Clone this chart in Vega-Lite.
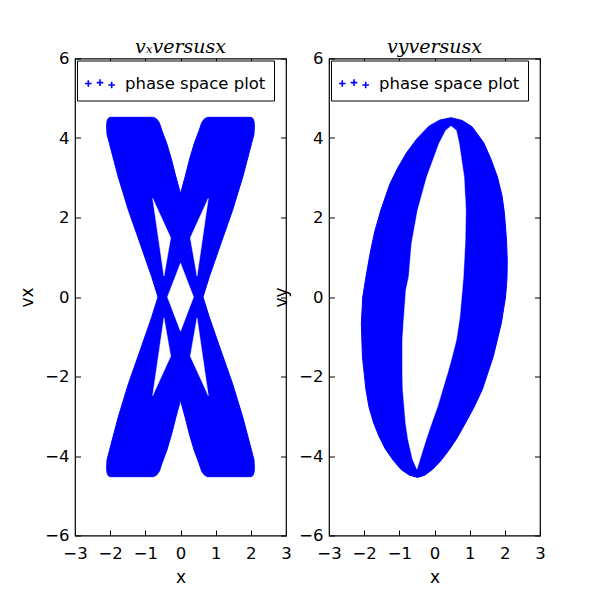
{
  "$schema": "https://vega.github.io/schema/vega-lite/v6.json",
  "background": "white",
  "padding": {"left": 17, "top": 36.5, "right": 5, "bottom": 5},
  "bounds": "flush",
  "spacing": 43,
  "config": {
    "view": {"stroke": "black", "strokeWidth": 1.2},
    "axis": {
      "domain": false,
      "grid": false,
      "tickSize": -5.5,
      "tickColor": "black",
      "tickWidth": 1,
      "labelFont": "DejaVu Sans",
      "labelFontSize": 16.5,
      "labelColor": "black",
      "labelFlush": false,
      "labelOverlap": false,
      "titleFont": "DejaVu Sans",
      "titleFontSize": 17,
      "titleFontWeight": "normal",
      "titleColor": "black"
    },
    "axisX": {"labelPadding": 15, "titlePadding": 8},
    "axisY": {"labelPadding": 11.5, "titlePadding": 8.5},
    "title": {"font": "DejaVu Serif", "fontStyle": "italic", "fontSize": 19, "fontWeight": "normal", "color": "black", "anchor": "middle", "offset": -6},
    "legend": {
      "title": null,
      "orient": "none",
      "legendX": 2,
      "legendY": 2,
      "strokeColor": "black",
      "strokeWidth": 1,
      "fillColor": "white",
      "padding": 8,
      "cornerRadius": 0,
      "labelFont": "DejaVu Sans",
      "labelFontSize": 16.5,
      "labelColor": "black",
      "labelOffset": 10,
      "symbolType": "M-1.07,0H-0.6M-0.836,-0.235V0.235M-0.235,-0.06H0.235M0,-0.295V0.175M0.6,0.11H1.07M0.836,-0.125V0.345",
      "symbolSize": 784,
      "symbolStrokeWidth": 1.6,
      "symbolFillColor": "transparent"
    }
  },
  "resolve": {"scale": {"color": "independent"}, "legend": {"color": "independent"}},
  "datasets": {
    "vx_band": [
      {"i": 1, "x": -2.0, "v": 4.52}, {"i": 2, "x": -0.77, "v": 4.52}, {"i": 3, "x": -0.68, "v": 4.48},
      {"i": 4, "x": -0.6, "v": 4.38}, {"i": 5, "x": -0.53, "v": 4.19}, {"i": 6, "x": -0.39, "v": 3.86},
      {"i": 7, "x": -0.25, "v": 3.44}, {"i": 8, "x": -0.13, "v": 3.02}, {"i": 9, "x": 0.0, "v": 2.6},
      {"i": 10, "x": 0.13, "v": 3.02}, {"i": 11, "x": 0.25, "v": 3.44}, {"i": 12, "x": 0.39, "v": 3.86},
      {"i": 13, "x": 0.53, "v": 4.19}, {"i": 14, "x": 0.6, "v": 4.38}, {"i": 15, "x": 0.68, "v": 4.48},
      {"i": 16, "x": 0.77, "v": 4.52}, {"i": 17, "x": 2.0, "v": 4.52}, {"i": 18, "x": 2.06, "v": 4.49},
      {"i": 19, "x": 2.09, "v": 4.42}, {"i": 20, "x": 2.1, "v": 4.3}, {"i": 21, "x": 2.09, "v": 4.1},
      {"i": 22, "x": 2.02, "v": 3.86}, {"i": 23, "x": 1.77, "v": 3.02}, {"i": 24, "x": 1.48, "v": 2.18},
      {"i": 25, "x": 1.15, "v": 1.35}, {"i": 26, "x": 0.82, "v": 0.51}, {"i": 27, "x": 0.64, "v": 0.0},
      {"i": 28, "x": 0.82, "v": -0.51}, {"i": 29, "x": 1.15, "v": -1.35}, {"i": 30, "x": 1.48, "v": -2.18},
      {"i": 31, "x": 1.77, "v": -3.02}, {"i": 32, "x": 2.02, "v": -3.86}, {"i": 33, "x": 2.09, "v": -4.1},
      {"i": 34, "x": 2.1, "v": -4.3}, {"i": 35, "x": 2.09, "v": -4.42}, {"i": 36, "x": 2.06, "v": -4.49},
      {"i": 37, "x": 2.0, "v": -4.52}, {"i": 38, "x": 0.77, "v": -4.52}, {"i": 39, "x": 0.68, "v": -4.48},
      {"i": 40, "x": 0.6, "v": -4.38}, {"i": 41, "x": 0.53, "v": -4.19}, {"i": 42, "x": 0.39, "v": -3.86},
      {"i": 43, "x": 0.25, "v": -3.44}, {"i": 44, "x": 0.13, "v": -3.02}, {"i": 45, "x": 0.0, "v": -2.6},
      {"i": 46, "x": -0.13, "v": -3.02}, {"i": 47, "x": -0.25, "v": -3.44}, {"i": 48, "x": -0.39, "v": -3.86},
      {"i": 49, "x": -0.53, "v": -4.19}, {"i": 50, "x": -0.6, "v": -4.38}, {"i": 51, "x": -0.68, "v": -4.48},
      {"i": 52, "x": -0.77, "v": -4.52}, {"i": 53, "x": -2.0, "v": -4.52}, {"i": 54, "x": -2.06, "v": -4.49},
      {"i": 55, "x": -2.09, "v": -4.42}, {"i": 56, "x": -2.1, "v": -4.3}, {"i": 57, "x": -2.09, "v": -4.1},
      {"i": 58, "x": -2.02, "v": -3.86}, {"i": 59, "x": -1.77, "v": -3.02}, {"i": 60, "x": -1.48, "v": -2.18},
      {"i": 61, "x": -1.15, "v": -1.35}, {"i": 62, "x": -0.82, "v": -0.51}, {"i": 63, "x": -0.64, "v": 0.0},
      {"i": 64, "x": -0.82, "v": 0.51}, {"i": 65, "x": -1.15, "v": 1.35}, {"i": 66, "x": -1.48, "v": 2.18},
      {"i": 67, "x": -1.77, "v": 3.02}, {"i": 68, "x": -2.02, "v": 3.86}, {"i": 69, "x": -2.09, "v": 4.1},
      {"i": 70, "x": -2.1, "v": 4.3}, {"i": 71, "x": -2.09, "v": 4.42}, {"i": 72, "x": -2.06, "v": 4.49}
    ],
    "vx_gaps": [
      {"poly": "ul", "i": 1, "x": -0.79, "v": 2.48}, {"poly": "ul", "i": 2, "x": -0.28, "v": 1.49}, {"poly": "ul", "i": 3, "x": -0.47, "v": 0.53},
      {"poly": "ur", "i": 1, "x": 0.79, "v": 2.48}, {"poly": "ur", "i": 2, "x": 0.47, "v": 0.53}, {"poly": "ur", "i": 3, "x": 0.28, "v": 1.49},
      {"poly": "ll", "i": 1, "x": -0.79, "v": -2.48}, {"poly": "ll", "i": 2, "x": -0.47, "v": -0.53}, {"poly": "ll", "i": 3, "x": -0.28, "v": -1.49},
      {"poly": "lr", "i": 1, "x": 0.79, "v": -2.48}, {"poly": "lr", "i": 2, "x": 0.28, "v": -1.49}, {"poly": "lr", "i": 3, "x": 0.47, "v": -0.53},
      {"poly": "mid", "i": 1, "x": 0.0, "v": 0.85}, {"poly": "mid", "i": 2, "x": 0.37, "v": 0.0}, {"poly": "mid", "i": 3, "x": 0.0, "v": -0.86}, {"poly": "mid", "i": 4, "x": -0.37, "v": 0.0}
    ],
    "vy_outer": [
      {"i": 1, "x": 0.47, "v": 4.51}, {"i": 2, "x": 0.79, "v": 4.44}, {"i": 3, "x": 1.07, "v": 4.28},
      {"i": 4, "x": 1.4, "v": 3.88}, {"i": 5, "x": 1.6, "v": 3.48}, {"i": 6, "x": 1.79, "v": 3.02},
      {"i": 7, "x": 1.92, "v": 2.55}, {"i": 8, "x": 1.99, "v": 2.1}, {"i": 9, "x": 2.05, "v": 1.4},
      {"i": 10, "x": 2.07, "v": 0.9}, {"i": 11, "x": 2.06, "v": 0.45}, {"i": 12, "x": 2.02, "v": 0.0},
      {"i": 13, "x": 1.9, "v": -0.66}, {"i": 14, "x": 1.67, "v": -1.5}, {"i": 15, "x": 1.36, "v": -2.33},
      {"i": 16, "x": 1.12, "v": -2.78}, {"i": 17, "x": 0.88, "v": -3.17}, {"i": 18, "x": 0.64, "v": -3.55},
      {"i": 19, "x": 0.42, "v": -3.84}, {"i": 20, "x": 0.18, "v": -4.12}, {"i": 21, "x": -0.06, "v": -4.34},
      {"i": 22, "x": -0.27, "v": -4.48}, {"i": 23, "x": -0.48, "v": -4.54}, {"i": 24, "x": -0.72, "v": -4.48},
      {"i": 25, "x": -0.95, "v": -4.34}, {"i": 26, "x": -1.18, "v": -4.1}, {"i": 27, "x": -1.4, "v": -3.82},
      {"i": 28, "x": -1.58, "v": -3.5}, {"i": 29, "x": -1.73, "v": -3.17}, {"i": 30, "x": -1.86, "v": -2.78},
      {"i": 31, "x": -1.95, "v": -2.33}, {"i": 32, "x": -2.05, "v": -1.5}, {"i": 33, "x": -2.08, "v": -0.66},
      {"i": 34, "x": -2.04, "v": 0.0}, {"i": 35, "x": -1.95, "v": 0.5}, {"i": 36, "x": -1.83, "v": 1.1},
      {"i": 37, "x": -1.7, "v": 1.65}, {"i": 38, "x": -1.52, "v": 2.2}, {"i": 39, "x": -1.27, "v": 2.84},
      {"i": 40, "x": -1.05, "v": 3.24}, {"i": 41, "x": -0.8, "v": 3.62}, {"i": 42, "x": -0.5, "v": 3.98},
      {"i": 43, "x": -0.15, "v": 4.3}, {"i": 44, "x": 0.15, "v": 4.45}
    ],
    "vy_inner": [
      {"i": 1, "x": 0.47, "v": 4.3}, {"i": 2, "x": 0.62, "v": 4.19}, {"i": 3, "x": 0.7, "v": 3.86},
      {"i": 4, "x": 0.84, "v": 3.02}, {"i": 5, "x": 0.89, "v": 2.18}, {"i": 6, "x": 0.87, "v": 1.35},
      {"i": 7, "x": 0.82, "v": 0.51}, {"i": 8, "x": 0.78, "v": 0.1}, {"i": 9, "x": 0.72, "v": -0.5},
      {"i": 10, "x": 0.62, "v": -1.08}, {"i": 11, "x": 0.5, "v": -1.5}, {"i": 12, "x": 0.37, "v": -1.92},
      {"i": 13, "x": 0.23, "v": -2.33}, {"i": 14, "x": 0.09, "v": -2.75}, {"i": 15, "x": -0.08, "v": -3.17},
      {"i": 16, "x": -0.24, "v": -3.59}, {"i": 17, "x": -0.33, "v": -3.84}, {"i": 18, "x": -0.42, "v": -4.1},
      {"i": 19, "x": -0.5, "v": -4.33}, {"i": 20, "x": -0.62, "v": -4.09}, {"i": 21, "x": -0.75, "v": -3.59},
      {"i": 22, "x": -0.82, "v": -3.17}, {"i": 23, "x": -0.86, "v": -2.75}, {"i": 24, "x": -0.9, "v": -2.33},
      {"i": 25, "x": -0.91, "v": -1.92}, {"i": 26, "x": -0.91, "v": -1.08}, {"i": 27, "x": -0.88, "v": -0.66},
      {"i": 28, "x": -0.81, "v": 0.18}, {"i": 29, "x": -0.73, "v": 0.51}, {"i": 30, "x": -0.65, "v": 1.35},
      {"i": 31, "x": -0.48, "v": 2.18}, {"i": 32, "x": -0.22, "v": 3.02}, {"i": 33, "x": 0.13, "v": 3.86},
      {"i": 34, "x": 0.32, "v": 4.19}
    ]
  },
  "hconcat": [
    {
      "width": 211,
      "height": 477,
      "title": "vₓversusx",
      "resolve": {"axis": {"x": "independent", "y": "independent"}},
      "layer": [
        {
          "data": {"name": "vx_band"},
          "mark": {"type": "line", "interpolate": "linear-closed", "fill": "#0000ff", "strokeWidth": 1},
          "encoding": {
            "x": {"field": "x", "type": "quantitative", "scale": {"domain": [-3, 3], "nice": false, "zero": false},
                  "axis": {"title": "x", "values": [-3, -2, -1, 0, 1, 2, 3], "format": "d"}},
            "y": {"field": "v", "type": "quantitative", "scale": {"domain": [-6, 6], "nice": false, "zero": false},
                  "axis": {"title": "vx", "values": [-6, -4, -2, 0, 2, 4, 6], "format": "d"}},
            "order": {"field": "i", "type": "quantitative"},
            "color": {"datum": "phase space plot", "type": "nominal", "scale": {"range": ["#0000ff"]}}
          }
        },
        {
          "data": {"name": "vx_gaps"},
          "mark": {"type": "line", "interpolate": "linear-closed", "fill": "white", "stroke": "white", "strokeWidth": 0.5},
          "encoding": {
            "x": {"field": "x", "type": "quantitative",
                  "axis": {"orient": "top", "labels": false, "title": null, "values": [-3, -2, -1, 0, 1, 2, 3]}},
            "y": {"field": "v", "type": "quantitative",
                  "axis": {"orient": "right", "labels": false, "title": null, "values": [-6, -4, -2, 0, 2, 4, 6]}},
            "order": {"field": "i", "type": "quantitative"},
            "detail": {"field": "poly", "type": "nominal"}
          }
        }
      ]
    },
    {
      "width": 211,
      "height": 477,
      "title": "vyversusx",
      "resolve": {"axis": {"x": "independent", "y": "independent"}},
      "layer": [
        {
          "data": {"name": "vy_outer"},
          "mark": {"type": "line", "interpolate": "linear-closed", "fill": "#0000ff", "strokeWidth": 1},
          "encoding": {
            "x": {"field": "x", "type": "quantitative", "scale": {"domain": [-3, 3], "nice": false, "zero": false},
                  "axis": {"title": "x", "values": [-3, -2, -1, 0, 1, 2, 3], "format": "d"}},
            "y": {"field": "v", "type": "quantitative", "scale": {"domain": [-6, 6], "nice": false, "zero": false},
                  "axis": {"title": "vy", "values": [-6, -4, -2, 0, 2, 4, 6], "format": "d"}},
            "order": {"field": "i", "type": "quantitative"},
            "color": {"datum": "phase space plot", "type": "nominal", "scale": {"range": ["#0000ff"]}}
          }
        },
        {
          "data": {"name": "vy_inner"},
          "mark": {"type": "line", "interpolate": "linear-closed", "fill": "white", "stroke": "white", "strokeWidth": 0.5},
          "encoding": {
            "x": {"field": "x", "type": "quantitative",
                  "axis": {"orient": "top", "labels": false, "title": null, "values": [-3, -2, -1, 0, 1, 2, 3]}},
            "y": {"field": "v", "type": "quantitative",
                  "axis": {"orient": "right", "labels": false, "title": null, "values": [-6, -4, -2, 0, 2, 4, 6]}},
            "order": {"field": "i", "type": "quantitative"}
          }
        }
      ]
    }
  ]
}
